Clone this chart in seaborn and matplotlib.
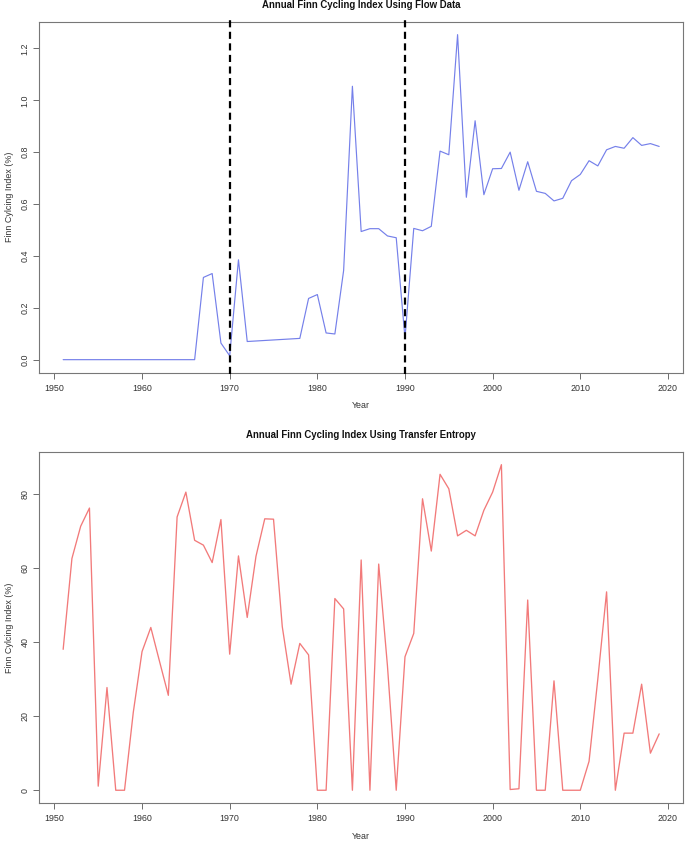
import matplotlib
matplotlib.use("Agg")
import matplotlib.pyplot as plt
import seaborn as sns
import pandas as pd

# ---- data ----
flow_years = [1951, 1952, 1953, 1954, 1955, 1956, 1957, 1958, 1959, 1960,
              1961, 1962, 1963, 1964, 1965, 1966, 1967, 1968, 1969, 1970,
              1971, 1972, 1978, 1979, 1980, 1981, 1982, 1983, 1984, 1985,
              1986, 1987, 1988, 1989, 1990, 1991, 1992, 1993, 1994, 1995,
              1996, 1997, 1998, 1999, 2000, 2001, 2002, 2003, 2004, 2005,
              2006, 2007, 2008, 2009, 2010, 2011, 2012, 2013, 2014, 2015,
              2016, 2017, 2018, 2019]
flow_fci = [0.0, 0.0, 0.0, 0.0, 0.0, 0.0, 0.0, 0.0, 0.0, 0.0,
            0.0, 0.0, 0.0, 0.0, 0.0, 0.0, 0.317, 0.332, 0.064, 0.015,
            0.385, 0.070, 0.082, 0.236, 0.251, 0.103, 0.099, 0.344, 1.054, 0.494,
            0.505, 0.505, 0.477, 0.470, 0.083, 0.506, 0.497, 0.514, 0.804, 0.790,
            1.253, 0.626, 0.921, 0.636, 0.736, 0.737, 0.800, 0.653, 0.763, 0.649,
            0.641, 0.612, 0.622, 0.690, 0.714, 0.767, 0.747, 0.809, 0.822, 0.815,
            0.856, 0.826, 0.833, 0.822]

te_years = list(range(1951, 2020))
te_fci = [38.0, 62.5, 71.2, 76.1, 1.1, 27.7, 0.0, 0.0, 21.0, 37.4,
          43.9, 34.7, 25.6, 73.7, 80.4, 67.4, 66.1, 61.4, 73.0, 36.7,
          63.2, 46.6, 63.1, 73.2, 73.1, 44.1, 28.6, 39.6, 36.5, 0.0,
          0.0, 51.7, 48.9, 0.0, 62.1, 0.0, 61.0, 33.5, 0.0, 36.0,
          42.3, 78.6, 64.5, 85.2, 81.3, 68.6, 70.1, 68.6, 75.5, 80.4,
          87.8, 0.2, 0.4, 51.3, 0.0, 0.0, 29.5, 0.0, 0.0, 0.0,
          7.8, 30.0, 53.5, 0.0, 15.4, 15.4, 28.6, 10.0, 15.2]

break_years = [1970, 1990]
x_ticks = [1950, 1960, 1970, 1980, 1990, 2000, 2010, 2020]
flow_yticks = [0.0, 0.2, 0.4, 0.6, 0.8, 1.0, 1.2]
te_yticks = [0, 20, 40, 60, 80]

title_top = "Annual Finn Cycling Index Using Flow Data"
title_bot = "Annual Finn Cycling Index Using Transfer Entropy"
xlab = "Year"
ylab = "Finn Cylcing Index (%)"

# ---- style ----
sns.set_style("white")
plt.rcParams['font.family'] = ['Liberation Sans', 'DejaVu Sans']

fig = plt.figure(figsize=(6.85, 8.42), dpi=100)
ax1 = fig.add_axes([0.0574, 0.5574, 0.9397, 0.4169])
ax2 = fig.add_axes([0.0574, 0.0460, 0.9397, 0.4176])

df1 = pd.DataFrame({"Year": flow_years, "FCI": flow_fci})
df2 = pd.DataFrame({"Year": te_years, "FCI": te_fci})

sns.lineplot(data=df1, x="Year", y="FCI", ax=ax1, color="#7580ea",
             linewidth=0.85, estimator=None)
sns.lineplot(data=df2, x="Year", y="FCI", ax=ax2, color="#f27a7a",
             linewidth=0.95, estimator=None)

for yr in break_years:
    ax1.axvline(yr, ymin=-0.005, ymax=1.005, color="black", linewidth=1.6,
                linestyle=(0, (3.2, 2.0)), zorder=5, clip_on=False)

tick_fs = 6.4
for ax, title, yt, fmt in [(ax1, title_top, flow_yticks, "{:.1f}"),
                           (ax2, title_bot, te_yticks, "{:d}")]:
    ax.margins(x=0.04, y=0.04)
    ax.set_xticks(x_ticks)
    ax.set_xticklabels([str(t) for t in x_ticks])
    ax.set_yticks(yt)
    ax.set_yticklabels([fmt.format(t) for t in yt], rotation=90, va="center")
    ax.tick_params(axis="x", direction="out", length=4, width=0.6,
                   color="#555555", labelsize=tick_fs, labelcolor="#333333",
                   bottom=True, pad=4)
    ax.tick_params(axis="y", direction="out", length=4, width=0.6,
                   color="#555555", labelsize=tick_fs, labelcolor="#333333",
                   left=True, pad=3)
    ax.set_title(title, fontsize=6.9, fontweight="bold", pad=10, color="#111111")
    ax.set_xlabel(xlab, fontsize=6.4, color="#333333", labelpad=6)
    ax.set_ylabel(ylab, fontsize=6.4, color="#333333", labelpad=5)
    for s in ax.spines.values():
        s.set_color("#777777")
        s.set_linewidth(0.8)
    ax.grid(False)

ax1.set_xlim(1948.28, 2021.72)
ax2.set_xlim(1948.28, 2021.72)

fig.savefig("out.png", dpi=100)
